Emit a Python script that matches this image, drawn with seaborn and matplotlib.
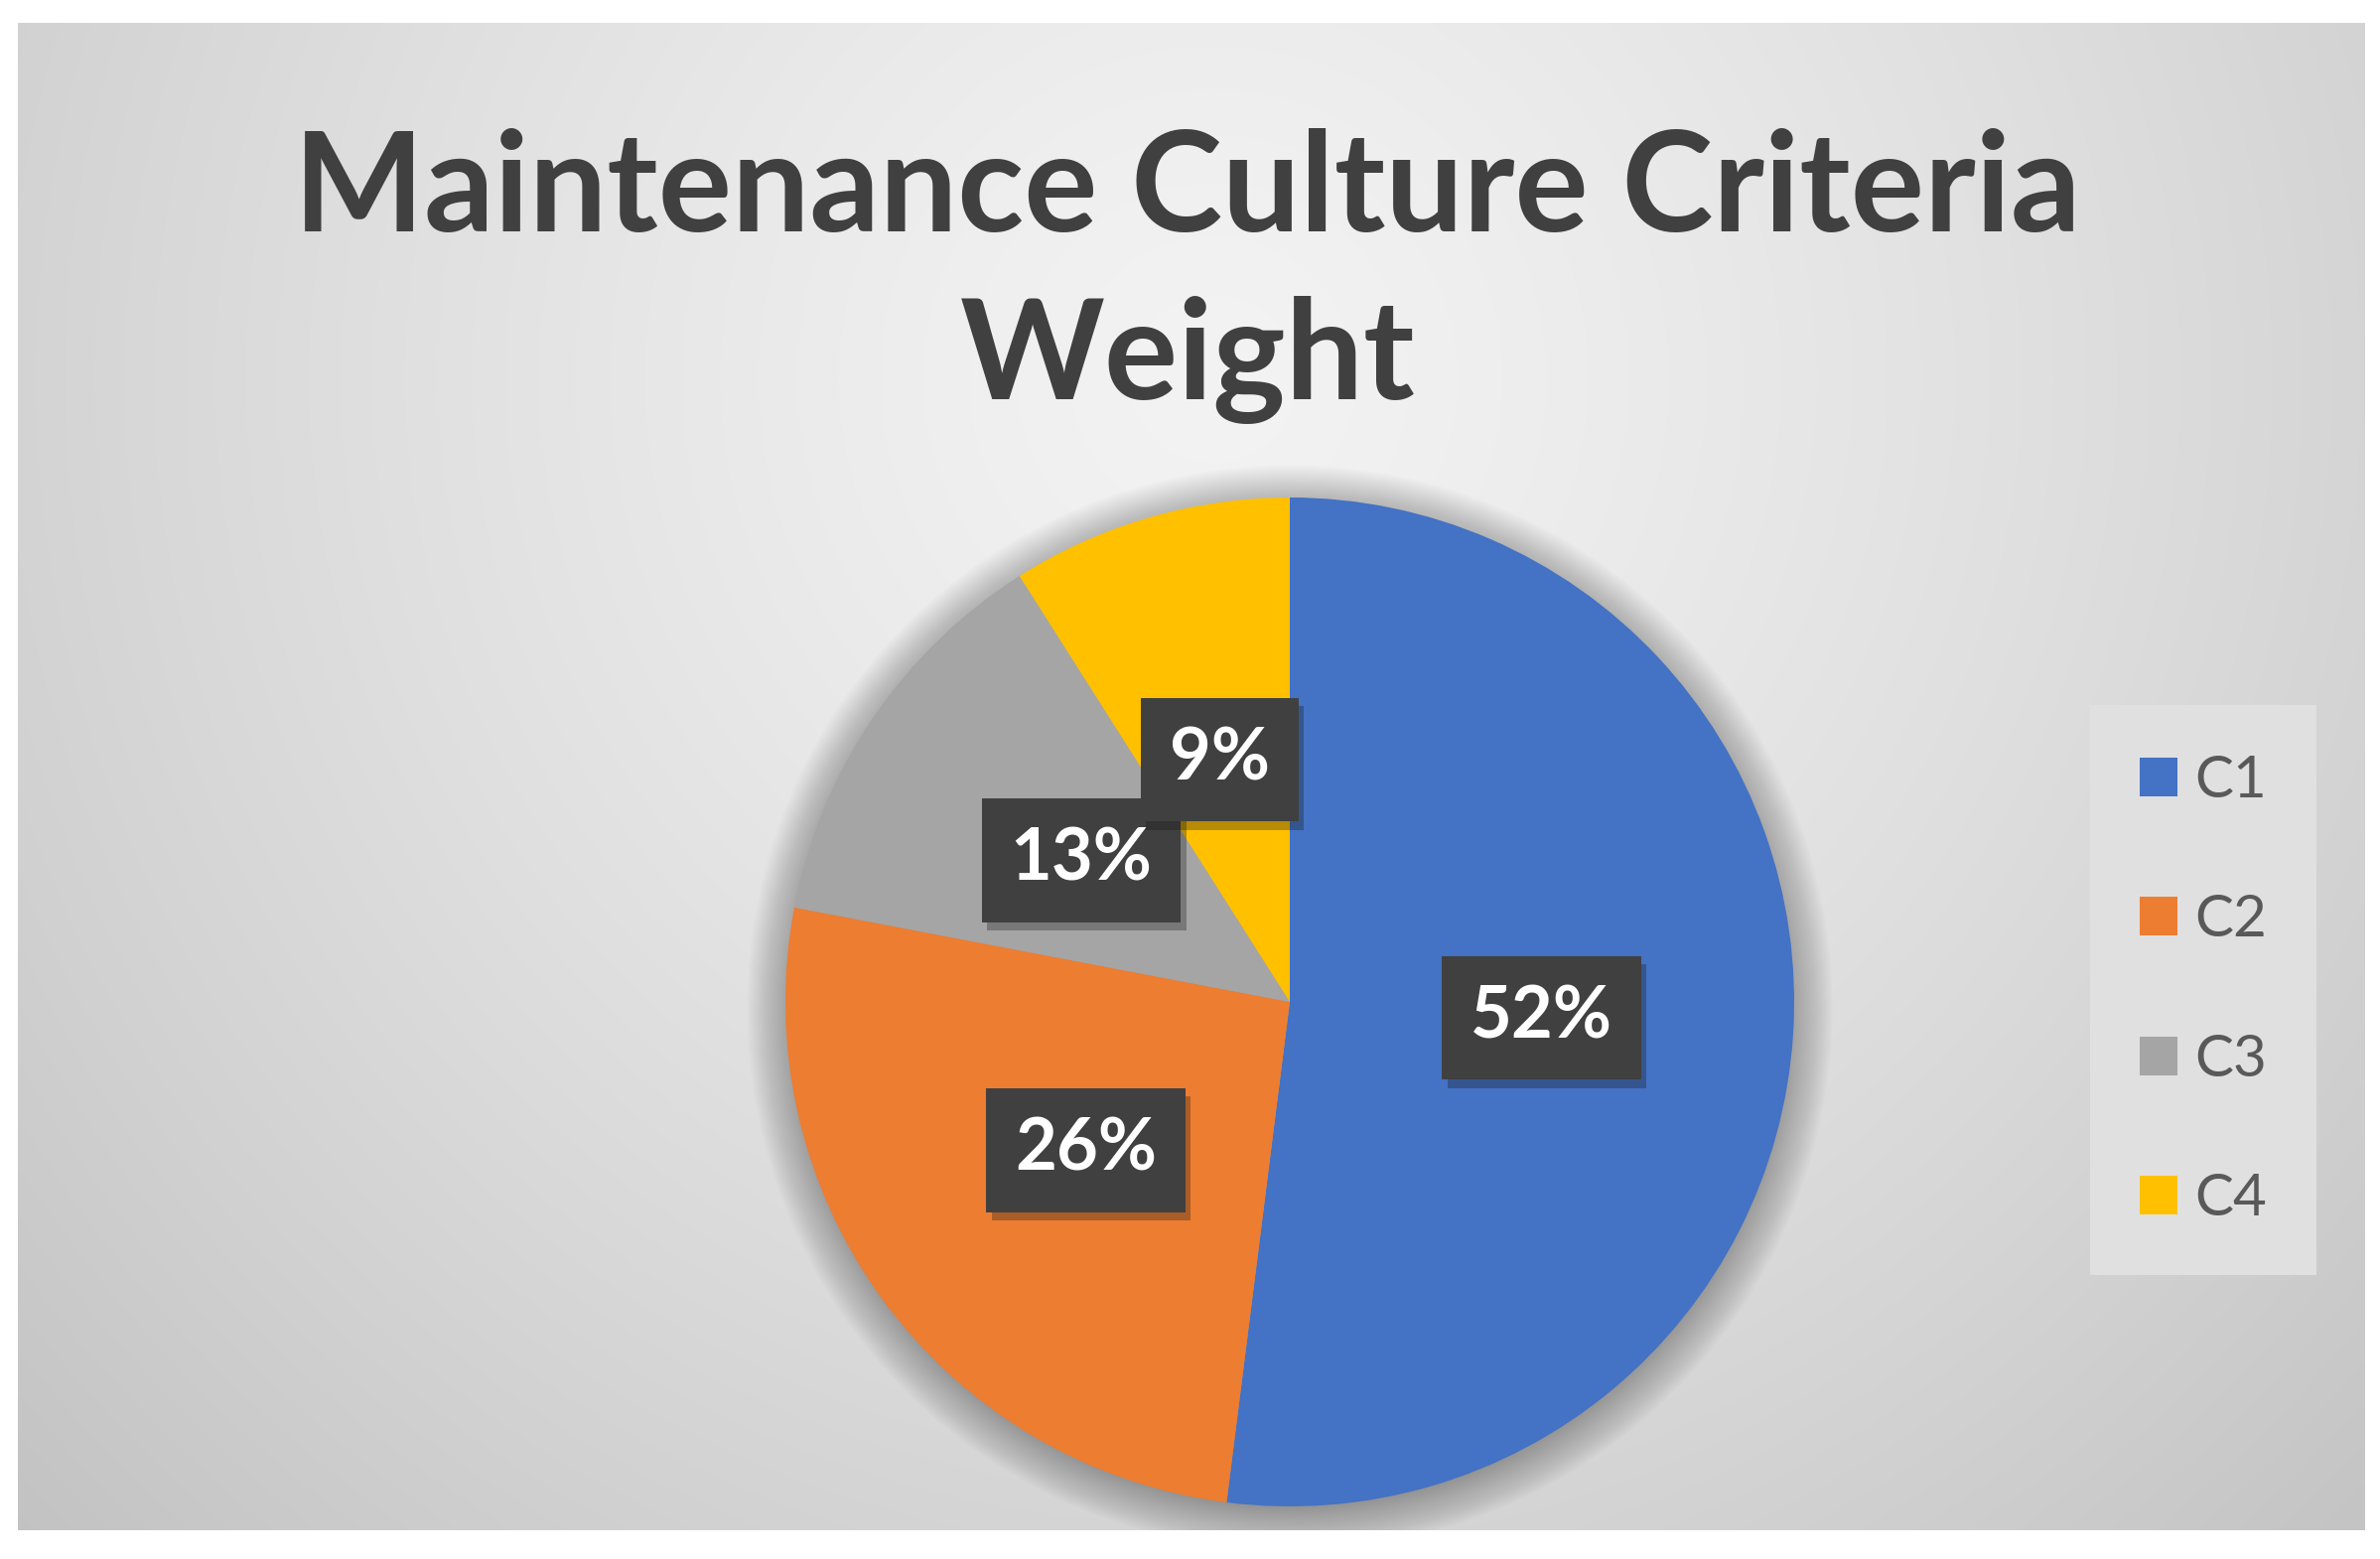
import numpy as np
import seaborn as sns
import matplotlib.pyplot as plt
import matplotlib.patheffects as pe

# criteria weights (percent)
criteria = ['C1', 'C2', 'C3', 'C4']
weights = [52, 26, 13, 9]
colors = ['#4472C4', '#ED7D31', '#A5A5A5', '#FFC000']
title = 'Maintenance Culture Criteria\nWeight'

sns.set_theme(style='white')
plt.rcParams['font.family'] = ['Lato', 'DejaVu Sans']

W, H = 2397, 1570
fig = plt.figure(figsize=(W / 100, H / 100), dpi=100)
fig.patch.set_facecolor('white')

# chart panel with radial grey gradient
px0, px1, py0, py1 = 18, 2382, 23, 1541
bg = fig.add_axes([px0 / W, 1 - py1 / H, (px1 - px0) / W, (py1 - py0) / H])
xx, yy = np.meshgrid(np.arange(px0, px1, 4), np.arange(py0, py1, 4))
d = np.hypot(xx - 1220, yy - 380) / 1660
shade = 243 - 48 * np.clip(d, 0, 1.2) ** 1.3
img = np.dstack([shade, shade, shade]) / 255
bg.imshow(img, extent=(px0, px1, py1, py0), aspect='auto', interpolation='bilinear')
bg.set_xlim(px0, px1)
bg.set_ylim(py1, py0)
bg.set_axis_off()

fig.text(1196 / W, 1 - 278 / H, title, ha='center', va='center', fontsize=100,
         fontweight='bold', color='#404040', linespacing=1.4)

# pie axes
cx, cy, r = 1299, 1009, 508
ax = fig.add_axes([(cx - r) / W, (H - cy - r) / H, 2 * r / W, 2 * r / H])
ax.set_facecolor('none')

# soft shadow behind pie, kept inside the panel
for k in range(20):
    c = plt.Circle((0.0, -0.012), 0.99 + 0.0045 * k, color='black',
                   alpha=0.015, lw=0, zorder=0)
    ax.add_patch(c)
    c.set_clip_path(bg.patch)

wedges, texts, autotexts = ax.pie(weights, labels=None, colors=colors, startangle=90,
                                  counterclock=False, autopct='%1.0f%%', pctdistance=0.5,
                                  radius=1.0, wedgeprops=dict(linewidth=0),
                                  textprops=dict(color='white', fontsize=52, fontweight='bold'))
for w in wedges:
    w.set_zorder(2)
    w.set_clip_on(False)
for t in autotexts:
    t.set_zorder(5)
    t.set_bbox(dict(boxstyle='square,pad=0.4', facecolor='#404040', edgecolor='none'))
    t.get_bbox_patch().set_path_effects([pe.SimplePatchShadow(offset=(4, -6), alpha=0.3),
                                         pe.Normal()])
ax.set_xlim(-1, 1)
ax.set_ylim(-1, 1)
ax.set_aspect('equal')
ax.set_axis_off()

leg = ax.legend(wedges, criteria, loc='center', bbox_to_anchor=(2219 / W, 1 - 997 / H),
                bbox_transform=fig.transFigure, frameon=True, fontsize=42,
                handlelength=0.65, handleheight=0.65, handletextpad=0.3,
                labelspacing=1.5, borderpad=0.85, borderaxespad=0, fancybox=False)
leg.get_frame().set_facecolor('#e0e0e0')
leg.get_frame().set_edgecolor('none')
leg.get_frame().set_alpha(1)
for t in leg.get_texts():
    t.set_color('#595959')

fig.savefig('out.png', dpi=100)
